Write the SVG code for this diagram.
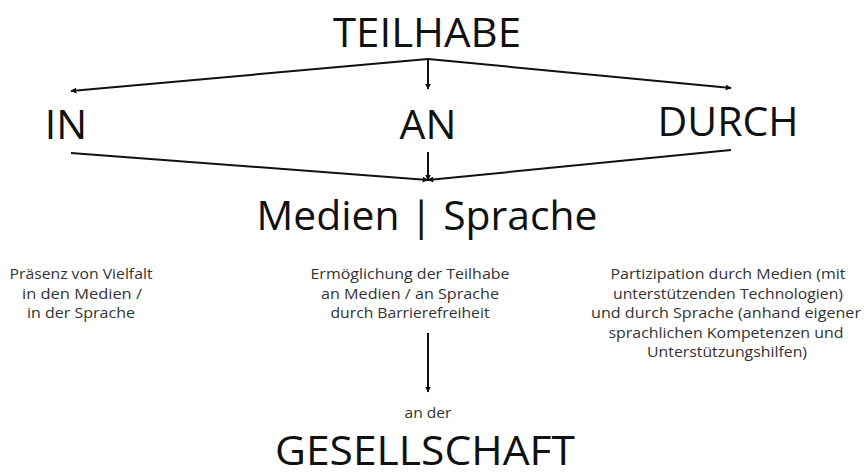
<svg xmlns="http://www.w3.org/2000/svg" width="864" height="476" viewBox="0 0 864 476">
<style>
.big{font-family:"Open Sans","Noto Sans",sans-serif;font-size:41px;fill:#111;text-anchor:middle}
.small{font-family:"Open Sans","Noto Sans",sans-serif;font-size:14.5px;fill:#333;text-anchor:middle}
.ln{stroke:#111;stroke-width:2;fill:none;marker-end:url(#ah)}
</style>
<defs>
<marker id="ah" viewBox="0 0 10 10" refX="9" refY="5" markerWidth="6" markerHeight="6" orient="auto" markerUnits="userSpaceOnUse">
<path d="M0,0 L10,5 L0,10 z" fill="#111"/>
</marker>
</defs>
<rect width="864" height="476" fill="#fff"/>
<g id="teilhabe"><text class="big" x="427" y="47" textLength="188" lengthAdjust="spacingAndGlyphs">TEILHABE</text></g>
<g id="in"><text class="big" x="66" y="139">IN</text></g>
<g id="an"><text class="big" x="428" y="139">AN</text></g>
<g id="durch"><text class="big" x="728" y="136">DURCH</text></g>
<g id="medien"><text class="big" x="427" y="230" textLength="341" lengthAdjust="spacingAndGlyphs">Medien | Sprache</text></g>
<g id="txt-in">
<text class="small" x="81" y="279" textLength="143" lengthAdjust="spacingAndGlyphs">Präsenz von Vielfalt</text>
<text class="small" x="82" y="298.5" textLength="120" lengthAdjust="spacingAndGlyphs">in den Medien /</text>
<text class="small" x="81" y="318" textLength="108" lengthAdjust="spacingAndGlyphs">in der Sprache</text>
</g>
<g id="txt-an">
<text class="small" x="410" y="279" textLength="199" lengthAdjust="spacingAndGlyphs">Ermöglichung der Teilhabe</text>
<text class="small" x="410" y="298.5" textLength="178" lengthAdjust="spacingAndGlyphs">an Medien / an Sprache</text>
<text class="small" x="410" y="318" textLength="159" lengthAdjust="spacingAndGlyphs">durch Barrierefreiheit</text>
</g>
<g id="txt-durch">
<text class="small" x="728" y="279" textLength="235" lengthAdjust="spacingAndGlyphs">Partizipation durch Medien (mit</text>
<text class="small" x="728" y="298.5" textLength="230" lengthAdjust="spacingAndGlyphs">unterstützenden Technologien)</text>
<text class="small" x="726" y="318" textLength="270" lengthAdjust="spacingAndGlyphs">und durch Sprache (anhand eigener</text>
<text class="small" x="726" y="337.5" textLength="235" lengthAdjust="spacingAndGlyphs">sprachlichen Kompetenzen und</text>
<text class="small" x="727" y="357" textLength="160" lengthAdjust="spacingAndGlyphs">Unterstützungshilfen)</text>
</g>
<g id="ander"><text class="small" x="428" y="418" textLength="47" lengthAdjust="spacingAndGlyphs">an der</text></g>
<g id="gesellschaft"><text class="big" x="425" y="465" font-size="39" textLength="300" lengthAdjust="spacingAndGlyphs">GESELLSCHAFT</text></g>
<g id="connectors">
<path class="ln" d="M428,59 L71,91"/>
<path class="ln" d="M428,59 L731,88"/>
<path class="ln" d="M428,59 L428,89"/>
<path class="ln" d="M71,153 L428,180"/>
<path class="ln" d="M428,152 L428,180"/>
<path class="ln" d="M731,150 L428,180"/>
<path class="ln" d="M428,333 L428,392"/>
</g>
</svg>
